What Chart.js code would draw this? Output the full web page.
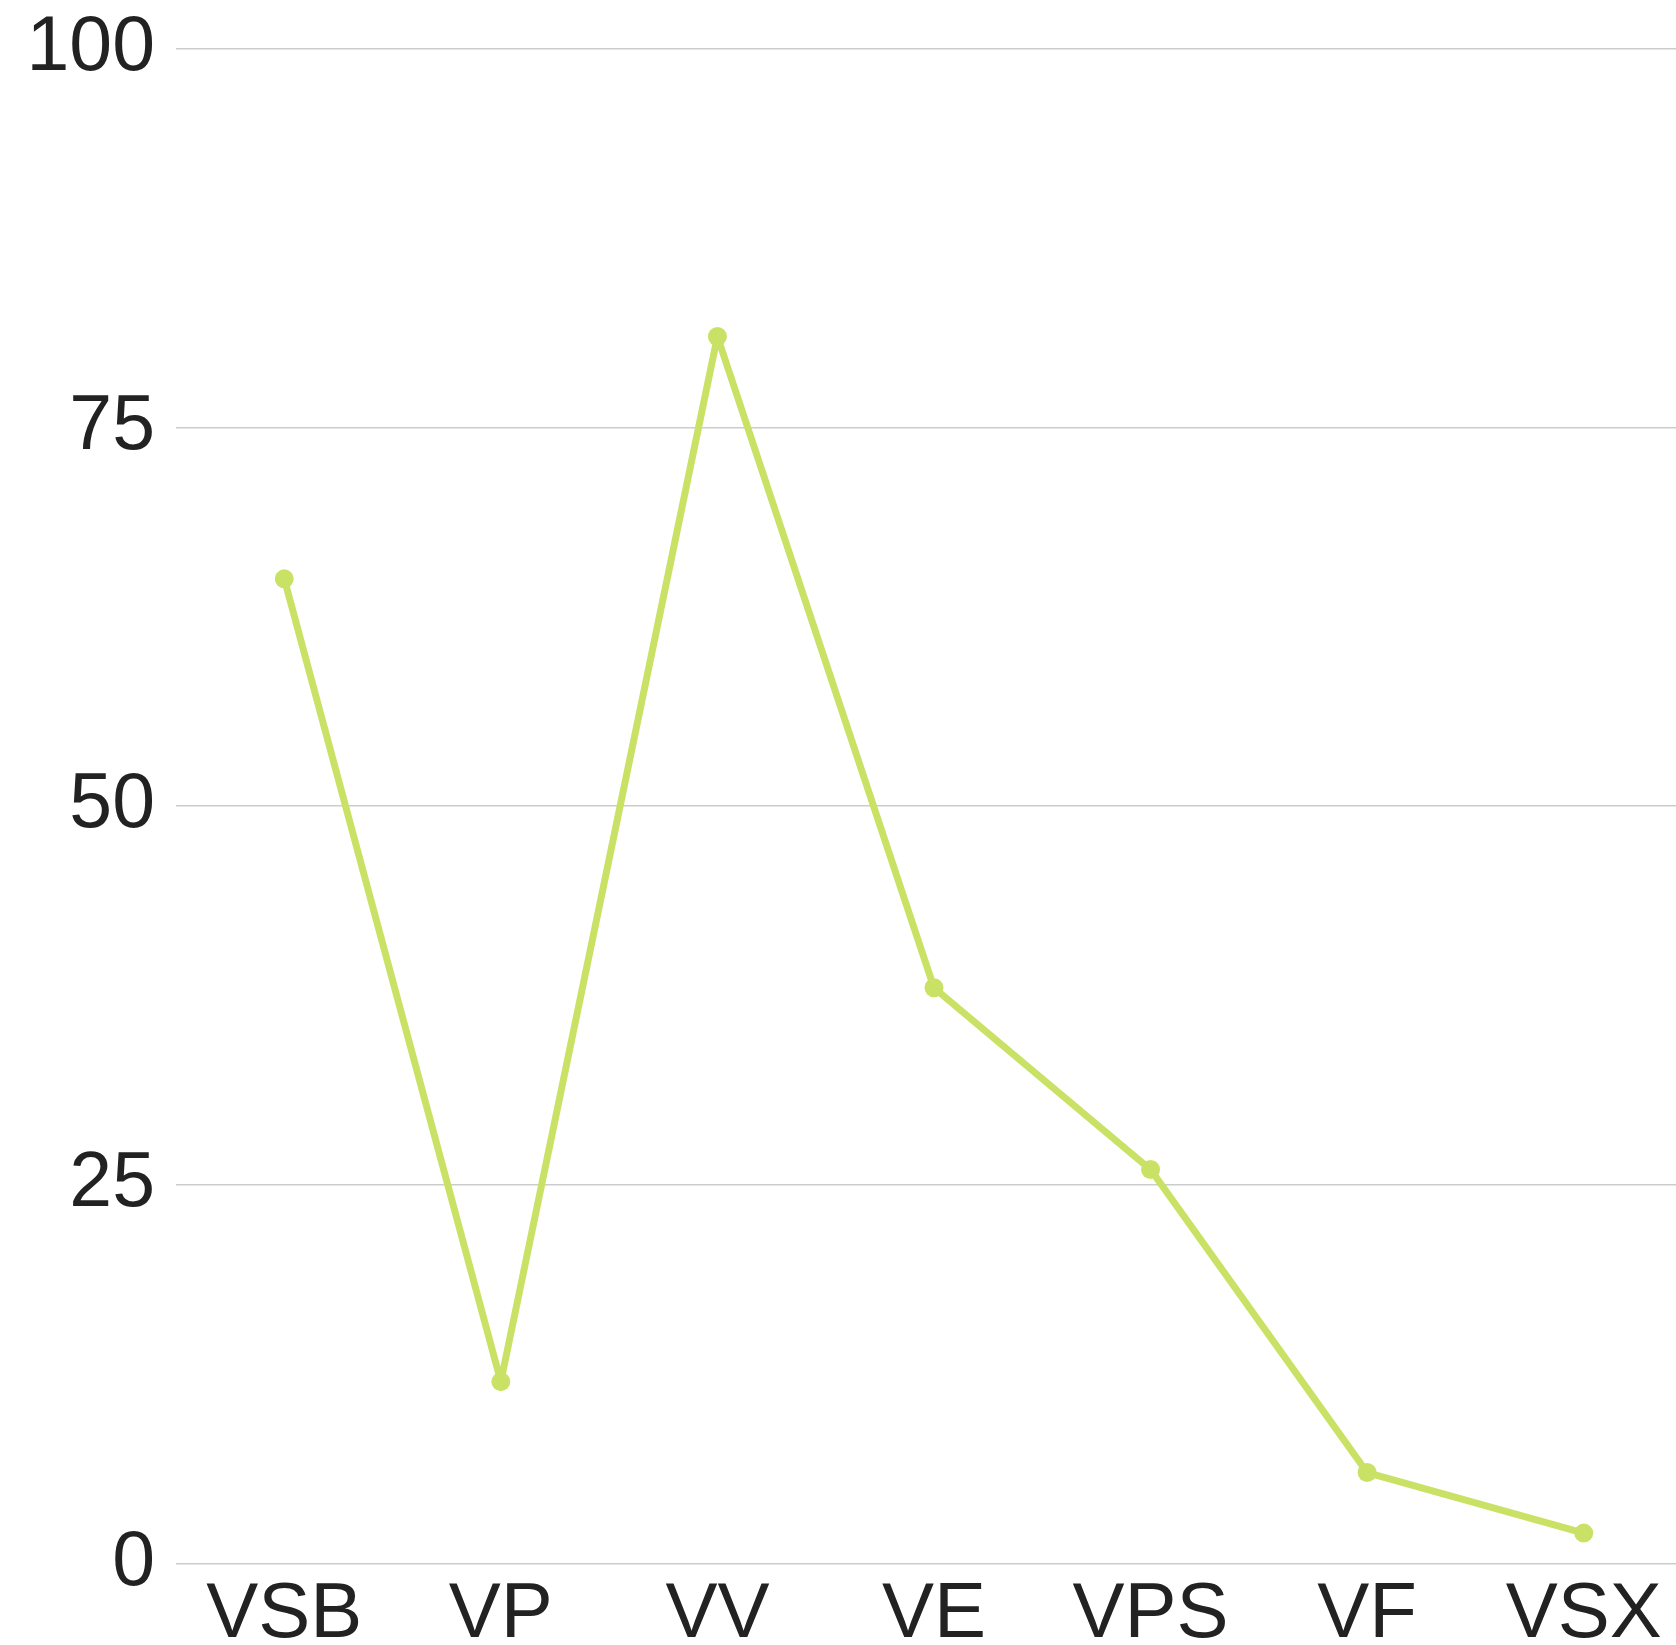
<!DOCTYPE html>
<html>
<head>
<meta charset="utf-8">
<script src="https://cdn.jsdelivr.net/npm/chart.js@4/dist/chart.umd.min.js"></script>
<style>
html,body{margin:0;padding:0;background:#fff;overflow:hidden;}
canvas{display:block;}
</style>
</head>
<body>
<canvas id="c" width="1692" height="1667"></canvas>
<script>
const categories = ["VSB", "VP", "VV", "VE", "VPS", "VF", "VSX"];
const values = [65, 12, 81, 38, 26, 6, 2];
const yTicks = [0, 25, 50, 75, 100];

new Chart(document.getElementById('c'), {
  type: 'line',
  data: {
    labels: categories,
    datasets: [{
      data: values,
      borderColor: '#c9e265',
      backgroundColor: '#c9e265',
      borderWidth: 7,
      borderJoinStyle: 'round',
      pointRadius: 9.5,
      pointBorderWidth: 0,
      tension: 0,
      fill: false
    }]
  },
  options: {
    responsive: false,
    animation: false,
    layout: { autoPadding: false, padding: { left: 5.5, top: 0, right: 0, bottom: 0 } },
    plugins: { legend: { display: false }, tooltip: { enabled: false } },
    scales: {
      x: {
        offset: true,
        grid: { display: false, drawTicks: false },
        border: { display: false },
        ticks: { color: '#222', padding: 5, font: { family: 'Liberation Sans, Arial, sans-serif', size: 78 } }
      },
      y: {
        min: 0, max: 100,
        afterBuildTicks: (axis) => { axis.ticks = yTicks.map(v => ({ value: v })); },
        grid: { color: '#cccccc', lineWidth: 1.5, drawTicks: false },
        border: { display: false },
        ticks: { color: '#222', padding: 21, font: { family: 'Liberation Sans, Arial, sans-serif', size: 77, lineHeight: 0.72 } }
      }
    }
  }
});
</script>
</body>
</html>
